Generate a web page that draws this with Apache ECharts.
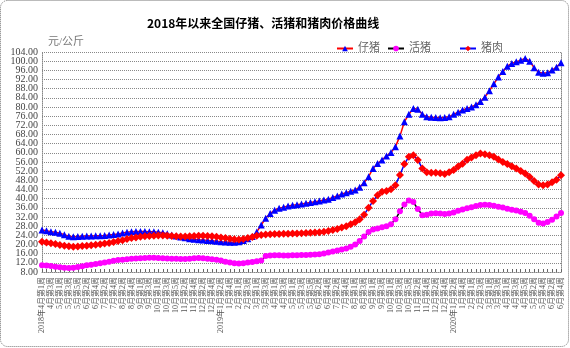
<!DOCTYPE html>
<html>
<head>
<meta charset="utf-8">
<script src="https://cdn.jsdelivr.net/npm/echarts@6/dist/echarts.min.js"></script>
<style>
  html, body { margin: 0; padding: 0; background: #fff; }
  #chart { width: 570px; height: 348px; }
</style>
</head>
<body>
<div id="chart"></div>
<script>
// Weekly categories, April 2018 week 1 to June 2020 week 4
const weeks = [
  '2018年4月第1周','4月第2周','4月第3周','4月第4周',
  '5月第1周','5月第2周','5月第3周','5月第4周','5月第5周',
  '6月第1周','6月第2周','6月第3周','6月第4周',
  '7月第1周','7月第2周','7月第3周','7月第4周',
  '8月第1周','8月第2周','8月第3周','8月第4周','8月第5周',
  '9月第1周','9月第2周','9月第3周','9月第4周',
  '10月第1周','10月第2周','10月第3周','10月第4周','10月第5周',
  '11月第1周','11月第2周','11月第3周','11月第4周',
  '12月第1周','12月第2周','12月第3周','12月第4周',
  '1月第1周','2019年1月第2周','1月第3周','1月第4周','1月第5周',
  '2月第1周','2月第2周','2月第3周','2月第4周',
  '3月第1周','3月第2周','3月第3周','3月第4周',
  '4月第1周','4月第2周','4月第3周','4月第4周',
  '5月第1周','5月第2周','5月第3周','5月第4周','5月第5周',
  '6月第1周','6月第2周','6月第3周','6月第4周',
  '7月第1周','7月第2周','7月第3周','7月第4周','7月第5周',
  '8月第1周','8月第2周','8月第3周','8月第4周',
  '9月第1周','9月第2周','9月第3周','9月第4周',
  '10月第1周','10月第2周','10月第3周','10月第4周','10月第5周',
  '11月第1周','11月第2周','11月第3周','11月第4周',
  '12月第1周','12月第2周','12月第3周','12月第4周',
  '1月第1周','2020年1月第2周','1月第3周','1月第4周','1月第5周',
  '2月第1周','2月第2周','2月第3周','2月第4周',
  '3月第1周','3月第2周','3月第3周','3月第4周',
  '4月第1周','4月第2周','4月第3周','4月第4周','4月第5周',
  '5月第1周','5月第2周','5月第3周','5月第4周',
  '6月第1周','6月第2周','6月第3周','6月第4周'
];

// 仔猪 (piglet) price, 元/公斤
const piglet = [
  26.3, 26.0, 25.6, 25.3, 24.9, 24.3, 23.6, 23.4, 23.5, 23.6,
  23.7, 23.7, 23.8, 23.8, 23.9, 24.1, 24.4, 24.6, 25.0, 25.4,
  25.6, 25.7, 25.7, 25.7, 25.6, 25.6, 25.4, 25.1, 24.7, 24.2,
  23.7, 23.3, 22.9, 22.5, 22.3, 22.1, 22.0, 21.8, 21.6, 21.4,
  21.2, 21.1, 21.0, 21.0, 21.2, 21.8, 22.5, 23.5, 25.5, 28.5,
  31.5, 33.5, 35.0, 35.8, 36.3, 36.8, 37.1, 37.4, 37.7, 38.0,
  38.3, 38.7, 39.0, 39.4, 39.8, 40.5, 41.2, 42.0, 42.6, 43.2,
  43.8, 45.0, 47.0, 49.6, 53.2, 55.3, 56.9, 58.6, 60.1, 62.7,
  67.3, 73.6, 76.8, 79.4, 79.0, 76.8, 75.8, 75.5, 75.4, 75.3,
  75.4, 75.8, 76.8, 77.7, 78.7, 79.4, 80.0, 81.0, 82.4, 84.3,
  87.1, 90.1, 93.1, 95.5, 97.8, 99.0, 99.7, 100.4, 101.2, 100.0,
  97.1, 95.2, 94.7, 94.9, 96.1, 97.4, 99.3
];

// 活猪 (live hog) price, 元/公斤
const liveHog = [
  11.0, 10.8, 10.6, 10.3, 10.1, 9.9, 9.8, 9.9, 10.2, 10.5,
  10.9, 11.2, 11.5, 11.8, 12.2, 12.5, 12.9, 13.2, 13.4, 13.6,
  13.8, 13.9, 14.0, 14.1, 14.2, 14.2, 14.1, 14.0, 13.9, 13.8,
  13.8, 13.7, 13.7, 13.8, 14.0, 14.1, 14.0, 13.8, 13.6, 13.4,
  13.0, 12.5, 12.1, 11.8, 11.7, 11.8, 12.1, 12.4, 12.7, 13.0,
  15.0, 15.2, 15.3, 15.3, 15.2, 15.2, 15.3, 15.3, 15.4, 15.4,
  15.5, 15.6, 15.8, 16.1, 16.5, 17.0, 17.4, 17.8, 18.3, 19.0,
  20.0, 21.5, 23.5, 25.5, 26.5, 27.0, 27.5, 28.0, 28.8, 31.0,
  34.5, 37.5, 39.2, 38.5, 35.5, 32.8, 33.0, 33.5, 33.6, 33.5,
  33.3, 33.5, 34.0, 34.7, 35.3, 35.8, 36.3, 36.8, 37.2, 37.4,
  37.2, 36.9, 36.5, 36.1, 35.6, 35.2, 34.8, 34.3, 33.7, 32.5,
  31.0, 29.5, 29.2, 29.8, 30.8, 32.2, 33.7
];

// 猪肉 (pork) price, 元/公斤
const pork = [
  21.2, 20.9, 20.5, 20.2, 19.8, 19.5, 19.2, 19.0, 19.1, 19.3,
  19.5, 19.7, 19.9, 20.1, 20.4, 20.7, 21.1, 21.5, 21.9, 22.4,
  22.8, 23.1, 23.4, 23.6, 23.7, 23.8, 23.9, 23.9, 23.8, 23.7,
  23.6, 23.5, 23.5, 23.6, 23.7, 23.8, 23.8, 23.7, 23.6, 23.4,
  23.1, 22.8, 22.5, 22.3, 22.2, 22.4, 22.8, 23.3, 23.8, 24.2,
  24.4, 24.5, 24.6, 24.6, 24.7, 24.7, 24.8, 24.8, 24.9, 25.0,
  25.1, 25.2, 25.4, 25.6, 25.9, 26.3, 26.8, 27.4, 28.0, 28.8,
  29.7, 31.0, 33.0, 36.0, 39.0, 41.5, 43.0, 43.3, 44.1, 45.9,
  50.3, 55.1, 58.3, 59.0, 56.9, 53.2, 51.5, 51.3, 51.3, 51.1,
  50.8, 51.5, 52.5, 54.0, 55.2, 57.0, 58.0, 59.0, 59.7, 59.4,
  59.0, 58.3, 57.1, 56.0, 55.1, 54.2, 53.2, 52.1, 51.0, 49.5,
  47.7, 46.2, 45.9, 46.2, 47.2, 48.3, 50.2
];

const seriesNames = ['仔猪', '活猪', '猪肉'];

// Value axis range shared by all y axes
const yMin = 8, yMax = 104, yStep = 4;
// Ticks next to the range ends; an overlay axis carries their labels so that
// the end labels do not suppress them
const nearEndTicks = [yMin + yStep, yMax - yStep];

const serif = '"Liberation Serif", "Noto Sans CJK SC", serif';
const chart = echarts.init(document.getElementById('chart'), null, { renderer: 'canvas' });

const legendBase = {
  top: 38,
  itemWidth: 16,
  itemHeight: 7,
  itemGap: 4,
  textStyle: { fontFamily: serif, fontSize: 11, color: '#666' }
};

const yLabelStyle = {
  margin: 4,
  fontFamily: serif,
  fontSize: 10,
  color: '#444'
};

chart.setOption({
  backgroundColor: '#fff',
  animation: false,
  title: {
    text: '2018年以来全国仔猪、活猪和猪肉价格曲线',
    left: 142,
    top: 12,
    textStyle: { fontFamily: '"Noto Sans CJK SC", sans-serif', fontSize: 12, fontWeight: 'bold', color: '#000' }
  },
  legend: [
    Object.assign({}, legendBase, { left: 331, data: [seriesNames[0]] }),
    Object.assign({}, legendBase, { left: 382, data: [seriesNames[1]] }),
    Object.assign({}, legendBase, { left: 454, data: [seriesNames[2]] })
  ],
  graphic: [
    {
      type: 'rect',
      shape: { x: 0.5, y: 0.5, width: 568, height: 346, r: 7 },
      style: { fill: 'none', stroke: '#777', lineWidth: 1, lineDash: [1, 1] },
      silent: true
    },
    {
      type: 'text',
      left: 48,
      top: 37,
      style: { text: '元/公斤', font: '11px ' + serif, fill: '#777' },
      silent: true
    }
  ],
  grid: { left: 42, right: 9, top: 52, bottom: 76, containLabel: false },
  xAxis: {
    type: 'category',
    data: weeks,
    boundaryGap: false,
    axisLine: { show: true, lineStyle: { color: '#888', type: 'dotted' } },
    axisTick: { show: true, inside: true, length: 3, interval: 0, lineStyle: { color: '#666' } },
    axisLabel: {
      interval: 1,
      rotate: 90,
      margin: 5,
      hideOverlap: false,
      fontFamily: serif,
      fontSize: 8,
      color: '#555'
    },
    splitLine: { show: false }
  },
  yAxis: [
    {
      type: 'value',
      min: yMin,
      max: yMax,
      interval: yStep,
      axisLine: { show: true, lineStyle: { color: '#888', type: 'dotted' } },
      axisTick: { show: false },
      axisLabel: Object.assign({
        formatter: v => v.toFixed(2),
        showMinLabel: true,
        showMaxLabel: true
      }, yLabelStyle),
      splitLine: { show: true, lineStyle: { color: '#888', type: 'dotted', width: 1 } }
    },
    {
      type: 'value',
      position: 'left',
      min: yMin,
      max: yMax,
      interval: yStep,
      axisLine: { show: false },
      axisTick: { show: false },
      axisLabel: Object.assign({
        formatter: v => (nearEndTicks.indexOf(v) >= 0 ? v.toFixed(2) : ''),
        showMinLabel: false,
        showMaxLabel: false
      }, yLabelStyle),
      splitLine: { show: false }
    },
    {
      type: 'value',
      position: 'right',
      min: yMin,
      max: yMax,
      interval: yStep,
      axisLine: { show: true, lineStyle: { color: '#888', type: 'dotted' } },
      axisTick: { show: false },
      axisLabel: { show: false },
      splitLine: { show: false }
    }
  ],
  series: [
    {
      name: seriesNames[0],
      type: 'line',
      data: piglet,
      symbol: 'triangle',
      symbolSize: 7,
      showAllSymbol: true,
      lineStyle: { color: '#FF0000', width: 1.5 },
      itemStyle: { color: '#0000FF' }
    },
    {
      name: seriesNames[1],
      type: 'line',
      data: liveHog,
      symbol: 'circle',
      symbolSize: 6,
      showAllSymbol: true,
      lineStyle: { color: '#000000', width: 1.5 },
      itemStyle: { color: '#FF00FF' }
    },
    {
      name: seriesNames[2],
      type: 'line',
      data: pork,
      symbol: 'diamond',
      symbolSize: 8,
      showAllSymbol: true,
      lineStyle: { color: '#0000FF', width: 1.5 },
      itemStyle: { color: '#FF0000' }
    }
  ]
});
</script>
</body>
</html>
